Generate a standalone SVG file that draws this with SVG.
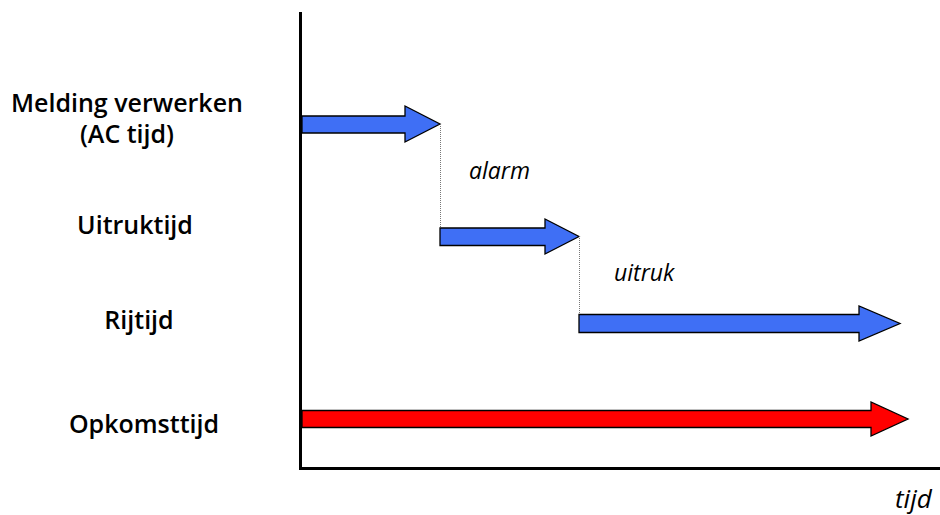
<svg xmlns="http://www.w3.org/2000/svg" width="940" height="515" viewBox="0 0 940 515">
<style>
.lbl{font-family:"Open Sans","Noto Sans",sans-serif;font-weight:600;font-size:25px;fill:#000;text-anchor:middle}
.it{font-family:"Open Sans","Noto Sans",sans-serif;font-style:italic;font-weight:500;font-size:23px;fill:#000}
.blue{fill:#3f6ff5;stroke:#000;stroke-width:1.3;stroke-linejoin:miter}
.red{fill:#ff0000;stroke:#000;stroke-width:1.3;stroke-linejoin:miter}
.dot{stroke:#777;stroke-width:1;stroke-dasharray:1 1;fill:none}
.axis{stroke:#000;stroke-width:3;fill:none}
</style>
<rect width="940" height="515" fill="#fff"/>
<g id="axes">
<path class="axis" d="M300.5 12 V468.5 H940"/>
</g>
<g id="labels">
<text class="lbl" x="127" y="112">Melding verwerken</text>
<text class="lbl" x="127" y="143">(AC tijd)</text>
<text class="lbl" x="135" y="234">Uitruktijd</text>
<text class="lbl" x="139" y="329">Rijtijd</text>
<text class="lbl" x="144" y="433">Opkomsttijd</text>
</g>
<g id="arrow-melding">
<path class="blue" d="M302 116 H405 V106 L440 124 L405 142 V133 H302 Z"/>
</g>
<g id="arrow-uitruk">
<path class="blue" d="M440 228 H545 V219 L579 236.5 L545 254 V245.5 H440 Z"/>
</g>
<g id="arrow-rijtijd">
<path class="blue" d="M579 314.5 H859 V306 L900 323.5 L859 341 V332.5 H579 Z"/>
</g>
<g id="arrow-opkomst">
<path class="red" d="M302 410.5 H871 V402 L908 419 L871 436 V427.5 H302 Z"/>
</g>
<g id="connectors">
<path class="dot" d="M440.5 124 V228"/>
<path class="dot" d="M579.5 236 V314"/>
</g>
<g id="annotations">
<text class="it" x="469" y="179">alarm</text>
<text class="it" x="614" y="281">uitruk</text>
<text class="it" x="895" y="508" style="font-size:26px">tijd</text>
</g>
</svg>
